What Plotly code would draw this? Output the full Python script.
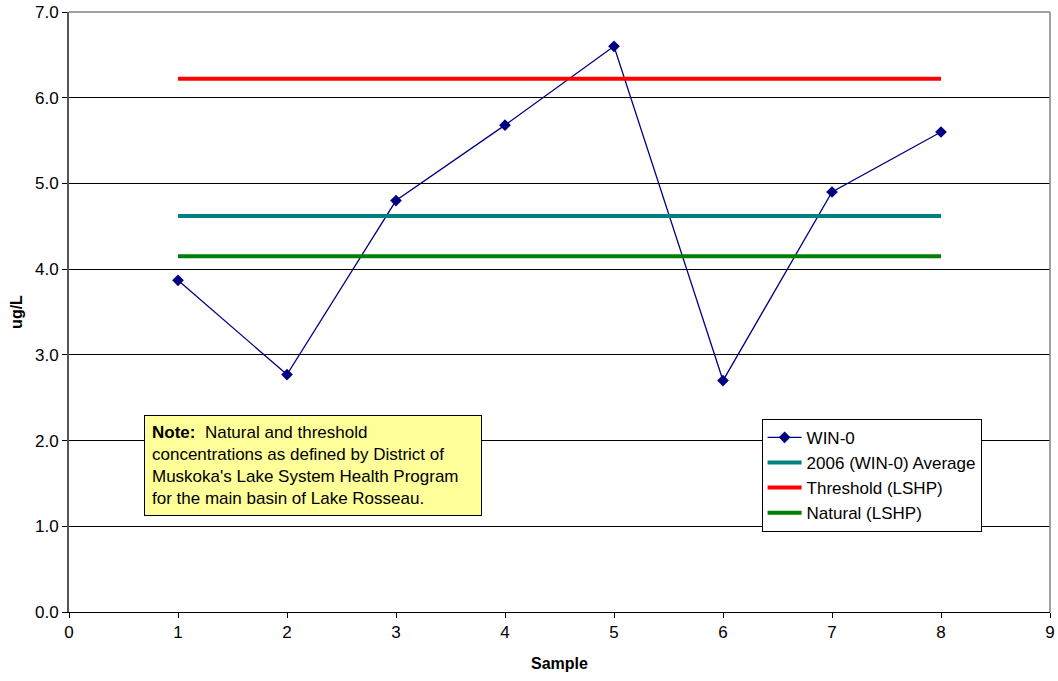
import plotly.graph_objects as go

samples = [1, 2, 3, 4, 5, 6, 7, 8]
win0 = [3.87, 2.77, 4.80, 5.68, 6.60, 2.70, 4.90, 5.60]
avg_2006 = [4.62] * 8
threshold = [6.22] * 8
natural = [4.15] * 8

fig = go.Figure()
fig.add_trace(go.Scatter(x=samples, y=win0, name="WIN-0", mode="lines+markers",
                         line=dict(color="#000080", width=1.3),
                         marker=dict(symbol="diamond", size=9, color="#000080"),
                         legendgroup="a"))
fig.add_trace(go.Scatter(x=samples, y=avg_2006, name="2006 (WIN-0) Average", mode="lines",
                         line=dict(color="#008080", width=4), legendgroup="b"))
fig.add_trace(go.Scatter(x=samples, y=threshold, name="Threshold (LSHP)", mode="lines",
                         line=dict(color="#FF0000", width=4), legendgroup="c"))
fig.add_trace(go.Scatter(x=samples, y=natural, name="Natural (LSHP)", mode="lines",
                         line=dict(color="#008000", width=4), legendgroup="d"))

fig.update_layout(
    width=1058, height=681,
    margin=dict(l=69, r=8, t=12, b=69),
    paper_bgcolor="white", plot_bgcolor="white",
    font=dict(family="Liberation Sans, Arial", size=17, color="black"),
    showlegend=True,
    legend=dict(x=0.706, y=0.322, xanchor="left", yanchor="top",
                bgcolor="white", bordercolor="black", borderwidth=1,
                font=dict(size=17), tracegroupgap=6, itemwidth=34,
                traceorder="normal"),
    xaxis=dict(range=[0, 9], dtick=1, tick0=0, showgrid=False,
               showline=True, linecolor="black", linewidth=1,
               ticks="outside", ticklen=5, tickcolor="black",
               title=dict(text="<b>Sample</b>", font=dict(size=16), standoff=16),
               mirror=False, zeroline=False, automargin=False),
    yaxis=dict(range=[0, 7], dtick=1, tickformat=".1f", showgrid=True,
               gridcolor="black", gridwidth=1,
               showline=True, linecolor="#555555", linewidth=2,
               ticks="outside", ticklen=5, tickcolor="black",
               title=dict(text="<b>ug/L</b>", font=dict(size=16), standoff=8),
               zeroline=False, automargin=False),
    shapes=[dict(type="line", xref="paper", yref="paper", x0=1, x1=1, y0=0, y1=1,
                 line=dict(color="#808080", width=1.5)),
            dict(type="line", xref="paper", yref="paper", x0=0, x1=1, y0=1, y1=1,
                 line=dict(color="#808080", width=1.5))],
    annotations=[dict(
        xref="paper", yref="paper", x=0.0765, y=0.328, xanchor="left", yanchor="top",
        text="<b>Note:</b>  Natural and threshold<br>concentrations as defined by District of<br>"
             "Muskoka's Lake System Health Program<br>for the main basin of Lake Rosseau.",
        showarrow=False, align="left", bgcolor="#FFFF99", bordercolor="black",
        borderwidth=1, borderpad=7, font=dict(size=17), width=322)],
)

fig.write_html("out.html", config={"displayModeBar": False},
               post_script="document.body.style.margin='0';document.body.style.overflow='hidden';")
